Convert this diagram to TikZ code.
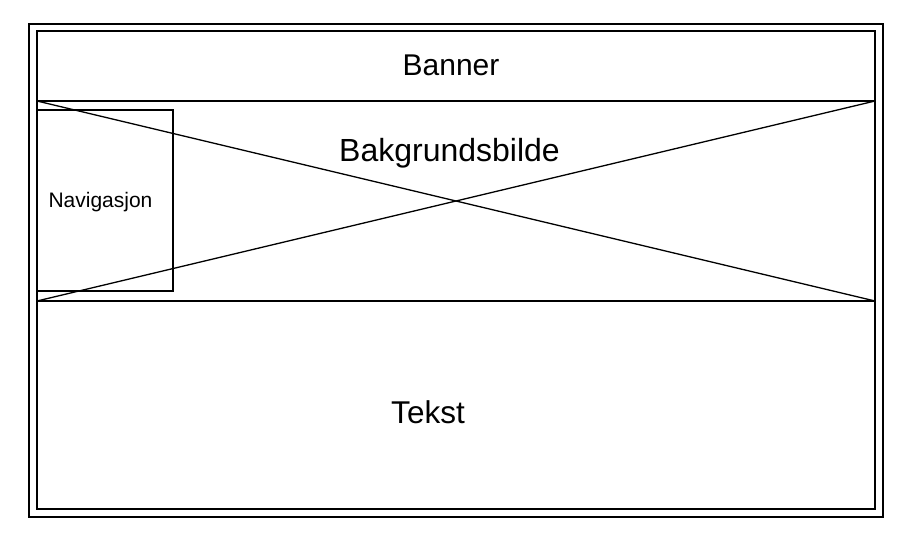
\documentclass[tikz,border=0pt]{standalone}
\usepackage{fontspec}
\setmainfont{Liberation Sans}
\begin{document}
\begin{tikzpicture}[x=1pt,y=-1pt,
  box/.style={draw=black,line width=1.4pt},
  lbl/.style={inner sep=0pt,anchor=base}]
\useasboundingbox (0,0) rectangle (918,544);
\fill[white] (0,0) rectangle (918,544);
\draw[box,line width=1.2pt] (29,24) rectangle (883,517);
\draw[box] (37,31) rectangle (875,509);
% banner
\draw[box] (37,31) rectangle (875,101);
\coordinate (bgTL) at (37,101);
\coordinate (bgTR) at (875,101);
\coordinate (bgBL) at (37,301);
\coordinate (bgBR) at (875,301);
\draw[box] (bgTL) rectangle (bgBR);
\draw[line width=1.3pt] (bgTL) -- (bgBR);
\draw[line width=1.3pt] (bgTR) -- (bgBL);
\draw[box,line width=1.1pt] (37,110) rectangle (173,291);
\node[lbl,font=\fontsize{30}{34}\selectfont] (banner) at (451,75.5) {Banner};
\node[lbl,font=\fontsize{32}{36}\selectfont] (bg) at (449.5,161) {Bakgrundsbilde};
\node[lbl,font=\fontsize{21}{24}\selectfont] (nav) at (100.5,207.5) {Navigasjon};
\node[lbl,font=\fontsize{31.5}{36}\selectfont] (tekst) at (428,423) {Tekst};
\end{tikzpicture}
\end{document}
